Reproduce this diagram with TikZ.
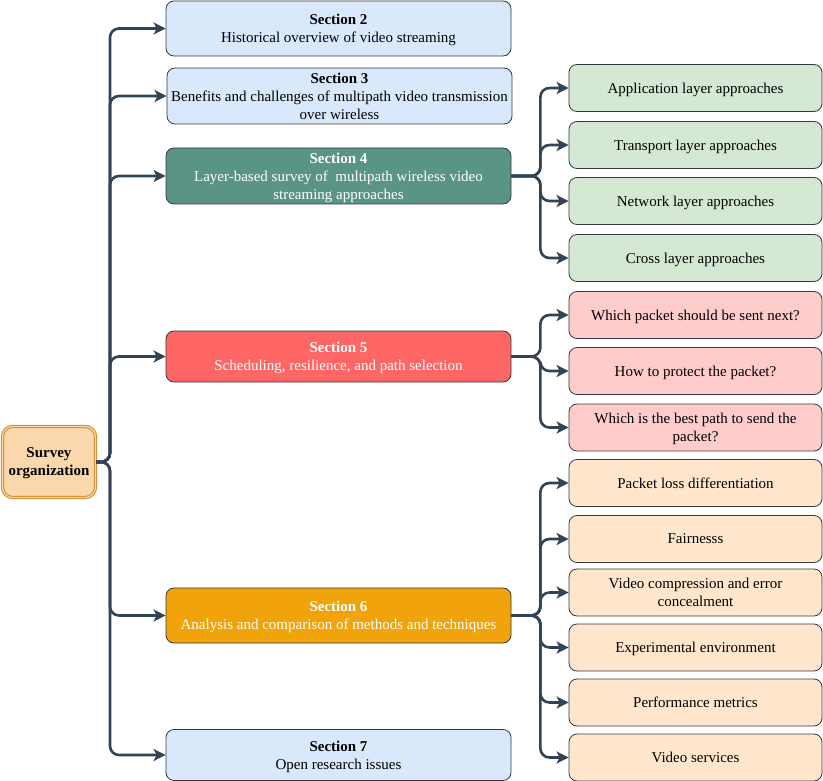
\documentclass[tikz,border=0pt]{standalone}
\usepackage{fontspec}
\setmainfont{Liberation Serif}
\usetikzlibrary{arrows.meta}
\definecolor{conn}{HTML}{314354}
\definecolor{blueF}{HTML}{DAE8FC}
\definecolor{tealF}{HTML}{5A9487}
\definecolor{redF}{HTML}{FF6666}
\definecolor{orangeF}{HTML}{F0A30A}
\definecolor{greenF}{HTML}{D5E8D4}
\definecolor{pinkF}{HTML}{FFCCCC}
\definecolor{peachF}{HTML}{FFE6CC}
\definecolor{rootF}{HTML}{FAD7AC}
\definecolor{rootD}{HTML}{D08A2A}
\definecolor{edgeG}{HTML}{36393D}
\tikzset{
  secbox/.style={draw=edgeG, line width=0.8pt, rounded corners=8pt, minimum width=345pt, minimum height=55pt, align=center, font=\fontsize{15}{18}\selectfont, inner sep=2pt, text depth=0pt},
  subbox/.style={draw=edgeG, line width=0.8pt, rounded corners=8pt, minimum width=253pt, minimum height=47pt, align=center, font=\fontsize{15}{18}\selectfont, inner sep=2pt, text depth=0pt},
  connector/.style={draw=conn, line width=2.6pt, rounded corners=9pt, -{Stealth[length=12pt,width=12pt,inset=3pt]}},
}
\begin{document}
\begin{tikzpicture}[x=1pt,y=-1pt]
\useasboundingbox (0,0) rectangle (823,781);
% root
\node[draw=rootD, double=rootF, double distance=1.2pt, line width=1pt, fill=rootF, rounded corners=10pt, minimum width=93pt, minimum height=71pt, align=center, font=\fontsize{15}{18}\selectfont\bfseries, text depth=0pt] (root) at (49,462) {Survey\\organization};
% sections
\node[secbox, fill=blueF] (s2) at (338.5,28.5) {\textbf{Section 2}\\Historical overview of video streaming};
\node[secbox, fill=blueF, minimum height=56pt] (s3) at (339.5,96) {\textbf{Section 3}\\Benefits and challenges of multipath video transmission\\over wireless};
\node[secbox, fill=tealF, text=white, minimum height=56pt] (s4) at (338.5,176) {\textbf{Section 4}\\Layer-based survey of\ \ multipath wireless video\\streaming approaches};
\node[secbox, fill=redF, text=white, minimum height=51pt] (s5) at (338.5,356.5) {\textbf{Section 5}\\Scheduling, resilience, and path selection};
\node[secbox, fill=orangeF, text=white, minimum height=55pt] (s6) at (338.5,615.5) {\textbf{Section 6}\\Analysis and comparison of methods and techniques};
\node[secbox, fill=blueF, minimum height=51pt] (s7) at (338.5,755) {\textbf{Section 7}\\Open research issues};
% sub boxes
\node[subbox, fill=greenF] (a1) at (695.5,88) {Application layer approaches};
\node[subbox, fill=greenF] (a2) at (695.5,145) {Transport layer approaches};
\node[subbox, fill=greenF] (a3) at (695.5,201) {Network layer approaches};
\node[subbox, fill=greenF] (a4) at (695.5,258) {Cross layer approaches};
\node[subbox, fill=pinkF] (b1) at (695.5,315) {Which packet should be sent next?};
\node[subbox, fill=pinkF] (b2) at (695.5,371) {How to protect the packet?};
\node[subbox, fill=pinkF] (b3) at (695.5,427.5) {Which is the best path to send the\\packet?};
\node[subbox, fill=peachF] (c1) at (695.5,483) {Packet loss differentiation};
\node[subbox, fill=peachF] (c2) at (695.5,539) {Fairnesss};
\node[subbox, fill=peachF] (c3) at (695.5,592.5) {Video compression and error\\concealment};
\node[subbox, fill=peachF] (c4) at (695.5,647.5) {Experimental environment};
\node[subbox, fill=peachF] (c5) at (695.5,702.5) {Performance metrics};
\node[subbox, fill=peachF] (c6) at (695.5,757.5) {Video services};
% connectors from root
\foreach \t in {s2,s3,s4,s5,s6,s7}{
  \draw[connector] (root.east) -- ++(14,0) |- (\t.west);
}
\foreach \t in {a1,a2,a3,a4}{
  \draw[connector] (s4.east) -- ++(29,0) |- (\t.west);
}
\foreach \t in {b1,b2,b3}{
  \draw[connector] (s5.east) -- ++(29,0) |- (\t.west);
}
\foreach \t in {c1,c2,c3,c4,c5,c6}{
  \draw[connector] (s6.east) -- ++(29,0) |- (\t.west);
}
\end{tikzpicture}
\end{document}
